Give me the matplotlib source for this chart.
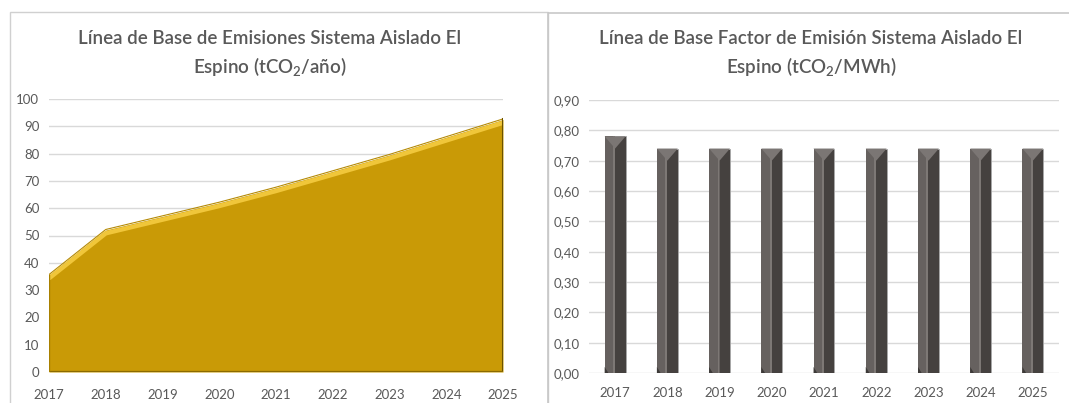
import matplotlib
matplotlib.use("Agg")
import matplotlib.pyplot as plt
import numpy as np
from matplotlib.patches import Rectangle
from matplotlib.ticker import FuncFormatter

years = [2017, 2018, 2019, 2020, 2021, 2022, 2023, 2024, 2025]
emisiones = [35.5, 52, 57, 62, 67.5, 73.5, 79.5, 86, 92.5]
factor = [0.78, 0.74, 0.74, 0.74, 0.74, 0.74, 0.74, 0.74, 0.74]
title_left = "Línea de Base de Emisiones Sistema Aislado El\nEspino (tCO$_2$/año)"
title_right = "Línea de Base Factor de Emisión Sistema Aislado El\nEspino (tCO$_2$/MWh)"

plt.rcParams['font.family'] = ['Lato', 'DejaVu Sans']
plt.rcParams['mathtext.default'] = 'regular'

W, H = 1069, 403
fig = plt.figure(figsize=(W / 100, H / 100), dpi=100)
fig.patch.set_facecolor('white')

txt = '#595959'
grid = '#d9d9d9'

# panel borders
fig.patches.append(Rectangle((10 / W, -0.05), 538 / W, 1 - 12 / H + 0.05, transform=fig.transFigure,
                             fill=False, edgecolor='#d0d0d0', lw=1))
fig.patches.append(Rectangle((548 / W, -0.05), 540 / W, 1 - 13 / H + 0.05, transform=fig.transFigure,
                             fill=False, edgecolor='#c8c8c8', lw=1.2))

# ---------- left: area chart ----------
ax1 = fig.add_axes([49 / W, (H - 372) / H, 454 / W, 273 / H])
x = np.array(years, dtype=float)
y = np.array(emisiones)
ax1.fill_between(x, 0, y, color='#C99A06', lw=0, zorder=2)
ax1.plot(x, y - 1.2, color='#F0C63A', lw=3.2, solid_capstyle='butt', zorder=3)
ax1.plot(x, y + 0.2, color='#B58A05', lw=0.8, zorder=3)
ax1.plot([x[-1], x[-1]], [0, y[-1]], color='#6b5200', lw=2.2, zorder=4)
ax1.plot([x[0], x[-1]], [0, 0], color='#8a6a00', lw=1.6, zorder=4)
ax1.plot([x[0], x[0]], [0, y[0]], color='#a88000', lw=1.0, zorder=4)
ax1.set_xlim(years[0], years[-1])
ax1.set_ylim(0, 100)
ax1.set_yticks(range(0, 101, 10))
ax1.set_xticks(years)
ax1.set_xticklabels([str(v) for v in years])
ax1.yaxis.grid(True, color=grid, lw=1, zorder=0)
ax1.set_axisbelow(True)
for s in ax1.spines.values():
    s.set_visible(False)
ax1.tick_params(length=0, labelsize=9.5, colors=txt, pad=7)
ax1.tick_params(axis='x', pad=12)
fig.text(270 / W, 1 - 54 / H, title_left, ha='center', va='center', fontsize=13.5,
         fontweight='semibold', color=txt, linespacing=1.45)

# ---------- right: bar chart ----------
ax2 = fig.add_axes([589 / W, (H - 373) / H, 470 / W, 273 / H])
xi = np.arange(len(years))
v = np.array(factor)
w = 0.40
ax2.bar(xi, v, width=w, color='#45413f', edgecolor='#a9a9a9', lw=0.6, zorder=2)
ax2.bar(xi - w * 0.25, v, width=w * 0.5, color='#66615f', lw=0, zorder=3)
ax2.bar(xi - w * 0.05, v, width=w * 0.09, color='#7d7875', lw=0, zorder=4)
cap = 0.04
for xc, vv in zip(xi, v):
    ax2.fill([xc - w / 2, xc + w / 2, xc], [vv, vv, vv - cap], color='#7b7674', lw=0, zorder=5)
    ax2.fill([xc - w / 2, xc - w / 2 + 0.07, xc - w / 2], [0, 0, 0.02], color='#3d3a38', lw=0, zorder=5)
ax2.set_xlim(-0.5, len(years) - 0.5)
ax2.set_ylim(0, 0.9)
ax2.set_yticks(np.arange(0, 0.91, 0.1))
ax2.yaxis.set_major_formatter(FuncFormatter(lambda t, p: f"{t:.2f}".replace('.', ',')))
ax2.set_xticks(xi)
ax2.set_xticklabels([str(v) for v in years])
ax2.yaxis.grid(True, color=grid, lw=1, zorder=0)
ax2.set_axisbelow(True)
for s in ax2.spines.values():
    s.set_visible(False)
ax2.tick_params(length=0, labelsize=9.5, colors=txt, pad=7)
ax2.tick_params(axis='x', pad=10)
fig.text(811 / W, 1 - 54 / H, title_right, ha='center', va='center', fontsize=13.5,
         fontweight='semibold', color=txt, linespacing=1.45)

fig.savefig('out.png', dpi=100)
